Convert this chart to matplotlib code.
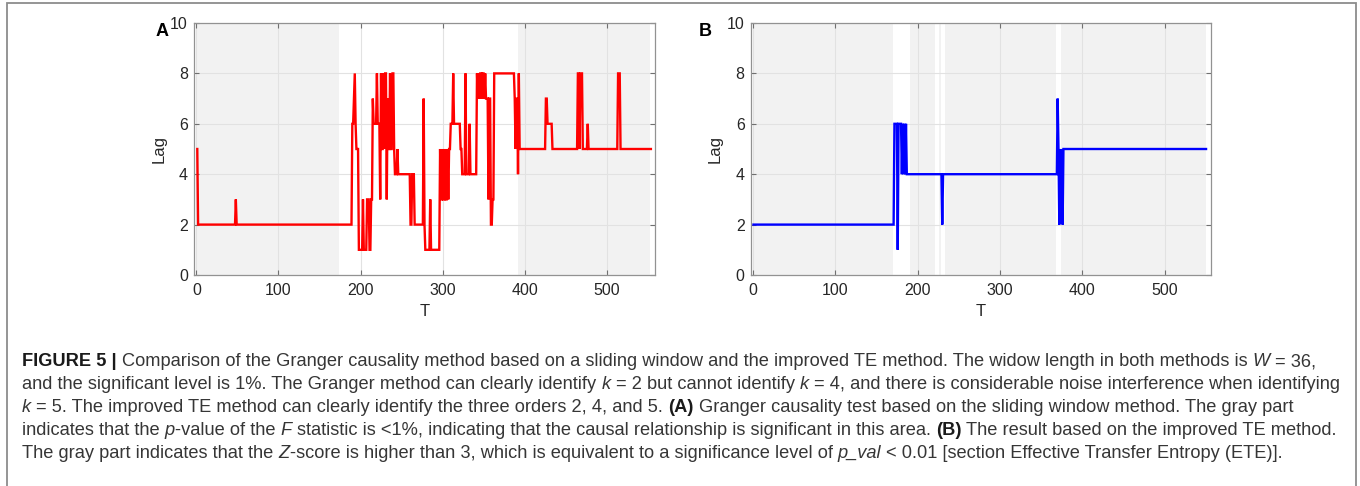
import numpy as np
import matplotlib
matplotlib.use("Agg")
import matplotlib.pyplot as plt
from matplotlib.patches import Rectangle

# ---------------- data ----------------
# Panel A (Granger, sliding window): T at which lag changes, and lag from that T on
a_change_t = [1, 2, 48, 49, 190, 192, 193, 194, 195, 198,
              203, 204, 208, 211, 213, 215, 216, 220, 221, 224,
              225, 226, 228, 229, 230, 232, 233, 234, 236, 237,
              239, 241, 242, 245, 246, 261, 263, 266, 277, 278,
              279, 285, 286, 297, 298, 300, 301, 303, 304, 306,
              307, 308, 310, 313, 314, 322, 324, 328, 329, 333,
              334, 342, 343, 344, 345, 346, 348, 349, 351, 352,
              353, 356, 357, 359, 361, 363, 388, 389, 390, 392,
              393, 394, 426, 428, 434, 465, 467, 468, 471, 477,
              478, 514, 517]
a_change_lag = [5, 2, 3, 2, 6, 7, 8, 6, 5, 1,
                3, 1, 3, 1, 3, 7, 6, 8, 6, 3,
                8, 5, 8, 5, 8, 3, 7, 5, 8, 5,
                8, 5, 4, 5, 4, 2, 4, 2, 7, 2,
                1, 3, 1, 5, 3, 5, 3, 5, 3, 5,
                3, 5, 6, 8, 6, 5, 4, 8, 4, 6,
                4, 8, 7, 8, 7, 8, 7, 8, 7, 8,
                7, 3, 7, 2, 3, 8, 7, 5, 7, 4,
                8, 5, 7, 6, 5, 8, 5, 8, 5, 6,
                5, 8, 5]
a_t_end = 554
a_gray_spans = [(0, 174), (391.5, 553)]

# Panel B (improved TE)
b_change_t = [1, 172, 176, 177, 181, 182, 183, 184, 185, 186,
              187, 230, 231, 370, 371, 372, 373, 374, 375, 376, 377]
b_change_lag = [2, 6, 1, 6, 4, 6, 4, 6, 4, 6,
                4, 2, 4, 7, 5, 2, 5, 4, 5, 2, 5]
b_t_end = 550
b_gray_spans = [(1, 170), (190.5, 221.5), (225.5, 228.5), (233.5, 368.5), (374.5, 550)]

x_ticks = [0, 100, 200, 300, 400, 500]
y_ticks = [0, 2, 4, 6, 8, 10]

caption_lines = [
    [("FIGURE 5 |", "bold", "normal"),
     (" Comparison of the Granger causality method based on a sliding window and the improved TE method. The widow length in both methods is ", "normal", "normal"),
     ("W", "normal", "italic"), (" = 36,", "normal", "normal")],
    [("and the significant level is 1%. The Granger method can clearly identify ", "normal", "normal"),
     ("k", "normal", "italic"), (" = 2 but cannot identify ", "normal", "normal"),
     ("k", "normal", "italic"),
     (" = 4, and there is considerable noise interference when identifying", "normal", "normal")],
    [("k", "normal", "italic"),
     (" = 5. The improved TE method can clearly identify the three orders 2, 4, and 5. ", "normal", "normal"),
     ("(A)", "bold", "normal"),
     (" Granger causality test based on the sliding window method. The gray part", "normal", "normal")],
    [("indicates that the ", "normal", "normal"), ("p", "normal", "italic"),
     ("-value of the ", "normal", "normal"), ("F", "normal", "italic"),
     (" statistic is <1%, indicating that the causal relationship is significant in this area. ", "normal", "normal"),
     ("(B)", "bold", "normal"),
     (" The result based on the improved TE method.", "normal", "normal")],
    [("The gray part indicates that the ", "normal", "normal"), ("Z", "normal", "italic"),
     ("-score is higher than 3, which is equivalent to a significance level of ", "normal", "normal"),
     ("p_val", "normal", "italic"),
     (" < 0.01 [section Effective Transfer Entropy (ETE)].", "normal", "normal")],
]


def expand(change_t, change_lag, t_end):
    t = np.arange(1, t_end + 1)
    idx = np.searchsorted(np.asarray(change_t), t, side="right") - 1
    return t, np.asarray(change_lag)[idx]


# ---------------- figure ----------------
W, H = 1360, 486
fig = plt.figure(figsize=(W / 100, H / 100), dpi=100)
FONT = ["Liberation Sans", "DejaVu Sans"]
plt.rcParams["font.family"] = FONT


def rect(l, t, r, b):
    return [l / W, 1 - b / H, (r - l) / W, (b - t) / H]


def style_axes(ax, xlim):
    ax.set_xlim(*xlim)
    ax.set_ylim(0, 10)
    ax.set_xticks(x_ticks)
    ax.set_yticks(y_ticks)
    ax.grid(True, color="#e2e2e2", lw=0.8, zorder=1)
    ax.set_axisbelow(True)
    ax.tick_params(direction="in", length=3.5, width=0.8, color="#707070",
                   top=True, right=True, labelsize=11.5, labelcolor="#262626")
    ax.tick_params(axis="x", pad=6)
    ax.tick_params(axis="y", pad=4.5)
    for s in ax.spines.values():
        s.set_color("#929292")
        s.set_linewidth(0.9)


axA = fig.add_axes(rect(194, 23, 655, 275))
axB = fig.add_axes(rect(751, 23, 1211, 275))

for s, e in a_gray_spans:
    axA.axvspan(s, e, color="#f2f2f2", lw=0, zorder=0)
tA, lagA = expand(a_change_t, a_change_lag, a_t_end)
axA.plot(tA, lagA, color="#ff0000", lw=1.7, zorder=3, solid_joinstyle="miter")
style_axes(axA, (-3, 559))

for s, e in b_gray_spans:
    axB.axvspan(s, e, color="#f2f2f2", lw=0, zorder=0)
tB, lagB = expand(b_change_t, b_change_lag, b_t_end)
axB.plot(tB, lagB, color="#0000ff", lw=1.7, zorder=3, solid_joinstyle="miter")
style_axes(axB, (-2, 556))


def ftext(x, y, s, **kw):
    return fig.text(x / W, 1 - y / H, s, **kw)


# axis labels and panel letters
ftext(159, 149, "Lag", rotation=90, ha="center", va="center", fontsize=12, color="#262626")
ftext(715, 149, "Lag", rotation=90, ha="center", va="center", fontsize=12, color="#262626")
ftext(425, 311, "T", ha="center", va="center", fontsize=12, color="#262626")
ftext(981, 311, "T", ha="center", va="center", fontsize=12, color="#262626")
ftext(156, 36, "A", ha="left", va="baseline", fontsize=13, fontweight="bold", color="black")
ftext(699, 36, "B", ha="left", va="baseline", fontsize=13, fontweight="bold", color="black")

# caption box
fig.add_artist(Rectangle((7 / W, -0.1), (1356 - 7) / W, 1.1 - 3 / H,
                         transform=fig.transFigure, fill=False,
                         ec="#8c8c8c", lw=1.3))

# caption text, laid out segment by segment
renderer = fig.canvas.get_renderer()
CAP_COLOR = "#363636"


def measure(s, fs, weight="normal", style="normal"):
    t = fig.text(0, 0, s, fontsize=fs, fontweight=weight, fontstyle=style)
    w = t.get_window_extent(renderer).width
    t.remove()
    return w


def line_width(segs, fs):
    sp = measure("a a", fs) - measure("aa", fs)
    w = 0
    for txt, wt, st in segs:
        core = txt.strip(" ")
        lead = len(txt) - len(txt.lstrip(" "))
        trail = len(txt) - len(txt.rstrip(" "))
        w += (lead + trail) * sp + measure(core, fs, wt, st)
    return w


base_fs = 12.0
target = 1318 - 22
fs = base_fs * target / line_width(caption_lines[0], base_fs)
space_w = measure("a a", fs) - measure("aa", fs)

baselines = [366, 389, 412, 435, 458]
for segs, yb in zip(caption_lines, baselines):
    x = 22
    for txt, wt, st in segs:
        core = txt.strip(" ")
        lead = len(txt) - len(txt.lstrip(" "))
        trail = len(txt) - len(txt.rstrip(" "))
        x += lead * space_w
        col = "#1a1a1a" if wt == "bold" else CAP_COLOR
        t = ftext(x, yb, core, fontsize=fs, fontweight=wt, fontstyle=st,
                  ha="left", va="baseline", color=col)
        x += t.get_window_extent(renderer).width + trail * space_w

fig.savefig("out.png", dpi=100)
